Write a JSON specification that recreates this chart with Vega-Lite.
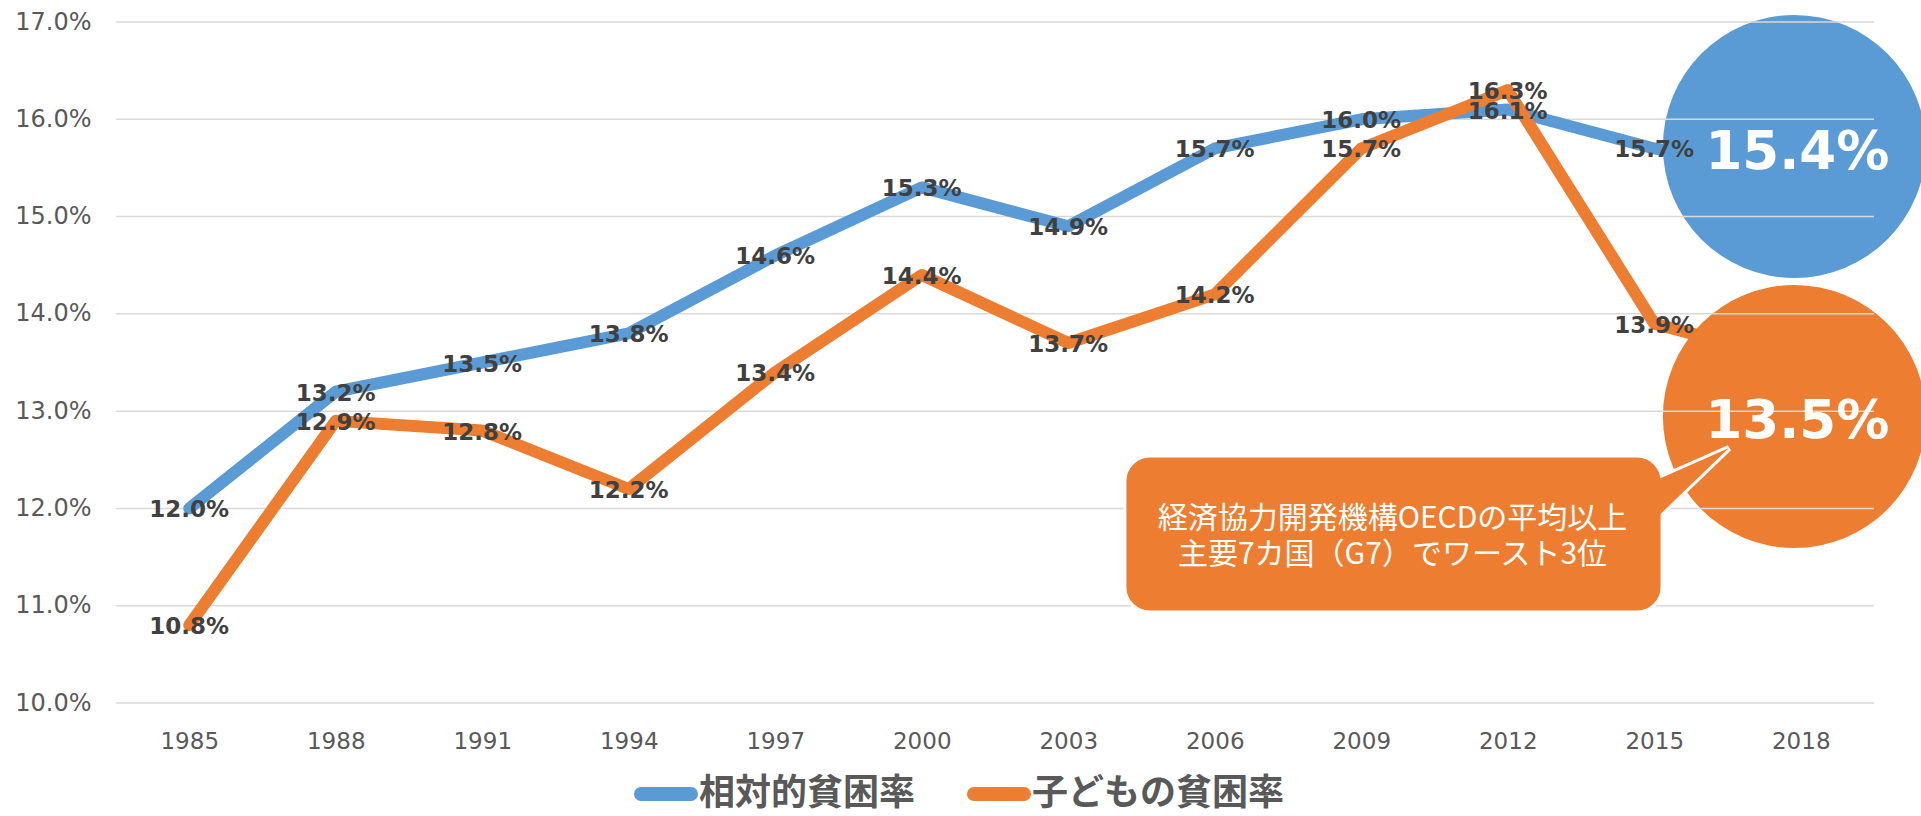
{
  "$schema": "https://vega.github.io/schema/vega-lite/v6.json",
  "width": 1758,
  "height": 681,
  "autosize": {"type": "none"},
  "padding": {"left": 116, "top": 22, "right": 47, "bottom": 113},
  "background": "white",
  "config": {"view": {"stroke": null}, "font": "DejaVu Sans"},
  "datasets": {
    "rates": [
      {"year": 1985, "series": "相対的貧困率", "value": 0.120},
      {"year": 1988, "series": "相対的貧困率", "value": 0.132},
      {"year": 1991, "series": "相対的貧困率", "value": 0.135},
      {"year": 1994, "series": "相対的貧困率", "value": 0.138},
      {"year": 1997, "series": "相対的貧困率", "value": 0.146},
      {"year": 2000, "series": "相対的貧困率", "value": 0.153},
      {"year": 2003, "series": "相対的貧困率", "value": 0.149},
      {"year": 2006, "series": "相対的貧困率", "value": 0.157},
      {"year": 2009, "series": "相対的貧困率", "value": 0.160},
      {"year": 2012, "series": "相対的貧困率", "value": 0.161},
      {"year": 2015, "series": "相対的貧困率", "value": 0.157},
      {"year": 2018, "series": "相対的貧困率", "value": 0.154},
      {"year": 1985, "series": "子どもの貧困率", "value": 0.108},
      {"year": 1988, "series": "子どもの貧困率", "value": 0.129},
      {"year": 1991, "series": "子どもの貧困率", "value": 0.128},
      {"year": 1994, "series": "子どもの貧困率", "value": 0.122},
      {"year": 1997, "series": "子どもの貧困率", "value": 0.134},
      {"year": 2000, "series": "子どもの貧困率", "value": 0.144},
      {"year": 2003, "series": "子どもの貧困率", "value": 0.137},
      {"year": 2006, "series": "子どもの貧困率", "value": 0.142},
      {"year": 2009, "series": "子どもの貧困率", "value": 0.157},
      {"year": 2012, "series": "子どもの貧困率", "value": 0.163},
      {"year": 2015, "series": "子どもの貧困率", "value": 0.139},
      {"year": 2018, "series": "子どもの貧困率", "value": 0.135}
    ],
    "grid": [
      {"value": 0.10}, {"value": 0.11}, {"value": 0.12}, {"value": 0.13},
      {"value": 0.14}, {"value": 0.15}, {"value": 0.16}, {"value": 0.17}
    ],
    "circles": [
      {"year": 2017.87, "value": 0.1572, "series": "相対的貧困率", "label": "15.4%"},
      {"year": 2017.87, "value": 0.12945, "series": "子どもの貧困率", "label": "13.5%"}
    ],
    "box": [
      {"year": 2004.16, "year2": 2015.16, "value": 0.12539, "value2": 0.10936}
    ],
    "tail": [
      {"year": 2015.0, "value": 0.12282, "value2": 0.11881},
      {"year": 2016.53, "value": 0.12621, "value2": 0.12621}
    ],
    "note": [
      {"year": 2009.64, "value": 0.11892, "label": "経済協力開発機構OECDの平均以上"},
      {"year": 2009.64, "value": 0.11522, "label": "主要7カ国（G7）でワースト3位"}
    ]
  },
  "layer": [
    {
      "data": {"name": "circles"},
      "transform": [{"filter": "datum.series === '相対的貧困率'"}],
      "mark": {"type": "point", "filled": true, "shape": "circle", "size": 69169, "opacity": 1, "color": "#5B9BD5"},
      "encoding": {
        "x": {"field": "year", "type": "quantitative", "title": null},
        "y": {"field": "value", "type": "quantitative", "title": null}
      }
    },
    {
      "data": {"name": "circles"},
      "transform": [{"filter": "datum.series === '子どもの貧困率'"}],
      "mark": {"type": "point", "filled": true, "shape": "circle", "size": 69169, "opacity": 1, "color": "#ED7D31"},
      "encoding": {
        "x": {"field": "year", "type": "quantitative", "title": null},
        "y": {"field": "value", "type": "quantitative", "title": null}
      }
    },
    {
      "data": {"name": "grid"},
      "mark": {"type": "rule", "color": "#D9D9D9", "strokeWidth": 1.5},
      "encoding": {
        "y": {"field": "value", "type": "quantitative", "title": null}
      }
    },
    {
      "data": {"name": "rates"},
      "mark": {"type": "line", "strokeWidth": 12, "strokeCap": "round", "strokeJoin": "round"},
      "encoding": {
        "x": {
          "field": "year",
          "type": "quantitative",
          "title": null,
          "scale": {"domain": [1983.5, 2019.5], "nice": false, "zero": false},
          "axis": {
            "values": [1985, 1988, 1991, 1994, 1997, 2000, 2003, 2006, 2009, 2012, 2015, 2018],
            "format": "d",
            "title": null,
            "grid": false,
            "domain": false,
            "ticks": false,
            "tickSize": 0,
            "labelFlush": false,
            "labelPadding": 27,
            "labelFontSize": 23,
            "labelColor": "#595959",
            "labelFont": "DejaVu Sans"
          }
        },
        "y": {
          "field": "value",
          "type": "quantitative",
          "title": null,
          "scale": {"domain": [0.1, 0.17], "nice": false, "zero": false},
          "axis": {
            "values": [0.1, 0.11, 0.12, 0.13, 0.14, 0.15, 0.16, 0.17],
            "format": ".1%",
            "title": null,
            "grid": false,
            "domain": false,
            "ticks": false,
            "tickSize": 0,
            "labelFlush": false,
            "labelPadding": 25,
            "labelFontSize": 24,
            "labelColor": "#595959",
            "labelFont": "DejaVu Sans"
          }
        },
        "color": {
          "field": "series",
          "type": "nominal",
          "scale": {"domain": ["相対的貧困率", "子どもの貧困率"], "range": ["#5B9BD5", "#ED7D31"]},
          "legend": {
            "orient": "none",
            "legendX": 518,
            "legendY": 740,
            "direction": "horizontal",
            "title": null,
            "symbolType": "stroke",
            "symbolSize": 2500,
            "symbolStrokeWidth": 14,
            "labelFontSize": 36,
            "labelFontWeight": "bold",
            "labelFont": "Noto Sans CJK JP",
            "labelColor": "#595959",
            "labelOffset": 1,
            "columnPadding": 30,
            "labelLimit": 0,
            "padding": 0,
            "encode": {"symbols": {"update": {"strokeCap": {"value": "round"}}}}
          }
        }
      }
    },
    {
      "data": {"name": "circles"},
      "mark": {"type": "text", "color": "white", "fontSize": 53, "fontWeight": "bold", "font": "DejaVu Sans", "align": "center", "baseline": "middle", "dx": 3, "dy": 6},
      "encoding": {
        "x": {"field": "year", "type": "quantitative", "title": null},
        "y": {"field": "value", "type": "quantitative", "title": null},
        "text": {"field": "label", "type": "nominal"}
      }
    },
    {
      "data": {"name": "rates"},
      "transform": [{"filter": "datum.year < 2018"}],
      "mark": {"type": "text", "fontSize": 23, "fontWeight": "bold", "font": "DejaVu Sans", "color": "#404040", "align": "center", "baseline": "middle", "dy": 2},
      "encoding": {
        "x": {"field": "year", "type": "quantitative", "title": null},
        "y": {"field": "value", "type": "quantitative", "title": null},
        "text": {"field": "value", "type": "quantitative", "format": ".1%"}
      }
    },
    {
      "data": {"name": "tail"},
      "mark": {"type": "area", "color": "#ED7D31", "stroke": "white", "strokeWidth": 6, "opacity": 1, "fillOpacity": 1},
      "encoding": {
        "x": {"field": "year", "type": "quantitative", "title": null},
        "y": {"field": "value", "type": "quantitative", "title": null},
        "y2": {"field": "value2"}
      }
    },
    {
      "data": {"name": "box"},
      "mark": {"type": "rect", "color": "#ED7D31", "stroke": "white", "strokeWidth": 3, "cornerRadius": 25, "opacity": 1},
      "encoding": {
        "x": {"field": "year", "type": "quantitative", "title": null},
        "y": {"field": "value", "type": "quantitative", "title": null},
        "x2": {"field": "year2"},
        "y2": {"field": "value2"}
      }
    },
    {
      "data": {"name": "tail"},
      "mark": {"type": "area", "color": "#ED7D31", "opacity": 1, "fillOpacity": 1},
      "encoding": {
        "x": {"field": "year", "type": "quantitative", "title": null},
        "y": {"field": "value", "type": "quantitative", "title": null},
        "y2": {"field": "value2"}
      }
    },
    {
      "data": {"name": "note"},
      "mark": {"type": "text", "color": "white", "fontSize": 30, "font": "Noto Sans CJK JP", "align": "center", "baseline": "middle"},
      "encoding": {
        "x": {"field": "year", "type": "quantitative", "title": null},
        "y": {"field": "value", "type": "quantitative", "title": null},
        "text": {"field": "label", "type": "nominal"}
      }
    }
  ]
}
